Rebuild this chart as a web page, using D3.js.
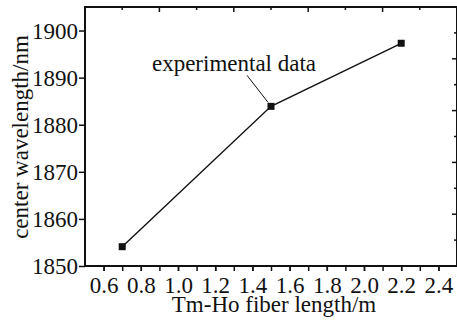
<!DOCTYPE html>
<meta charset="utf-8">
<script src="https://d3js.org/d3.v7.min.js"></script>
<style>
body { margin: 0; background: #fff; }
svg text { font-family: "Liberation Serif", "Times New Roman", serif !important; fill: #111; }
.axis path { display: none; }
.axis line { stroke: #111; stroke-width: 1.5px; }
</style>
<body></body>
<script>

// data
var fiberLength = [0.7, 1.5, 2.2];          // m
var centerWave = [1854.1, 1883.9, 1897.3];  // nm
var xTicks = [0.6, 0.8, 1.0, 1.2, 1.4, 1.6, 1.8, 2.0, 2.2, 2.4];
var yTicks = [1850, 1860, 1870, 1880, 1890, 1900];
var frameTicks = [1, 2, 3, 4, 5, 6, 7, 8, 9];   // top/right frame ticks
var label = "experimental data";

var width = 457, height = 320;
var m = {left: 85, right: 457, top: 7, bottom: 266};
var serif = '"Liberation Serif", "Times New Roman", serif';

var svg = d3.select("body").append("svg")
    .attr("width", width)
    .attr("height", height);

var xScale = d3.scaleLinear().domain([0.5, 2.5]).range([m.left, m.right]);
var yScale = d3.scaleLinear().domain([1850, 1905]).range([m.bottom, m.top]);
var frameX = d3.scaleLinear().domain([0, 10]).range([m.left, m.right]);
var frameY = d3.scaleLinear().domain([0, 10]).range([m.bottom, m.top]);

// bottom axis: ticks every 0.1, labels every 0.2
var minorX = d3.range(6, 25).map(function(d) { return d / 10; });
svg.append("g")
    .attr("class", "axis")
    .attr("transform", "translate(0," + m.bottom + ")")
    .call(d3.axisBottom(xScale).tickValues(minorX).tickSize(5).tickFormat(""));
var xAxisG = svg.append("g")
    .attr("class", "axis")
    .attr("transform", "translate(0," + m.bottom + ")")
    .call(d3.axisBottom(xScale).tickValues(xTicks).tickSize(5).tickPadding(6)
      .tickFormat(d3.format(".1f")));
xAxisG.attr("font-family", serif);
xAxisG.selectAll("text").style("font-size", "23px");

// left axis
var yAxisG = svg.append("g")
    .attr("class", "axis")
    .attr("transform", "translate(" + m.left + ",0)")
    .call(d3.axisLeft(yScale).tickValues(yTicks).tickSize(6).tickPadding(1)
      .tickFormat(d3.format("d")));
yAxisG.attr("font-family", serif);
yAxisG.selectAll("text").style("font-size", "23px").attr("dy", "0.34em");

// top frame ticks (inward, alternating length)
svg.append("g").selectAll("line")
    .data(frameTicks).enter().append("line")
    .attr("x1", function(d) { return frameX(d); })
    .attr("x2", function(d) { return frameX(d); })
    .attr("y1", m.top)
    .attr("y2", function(d) { return m.top + (d % 2 == 0 ? 5 : 3); })
    .attr("stroke", "#111").attr("stroke-width", 1.5);

// right frame ticks
svg.append("g").selectAll("line")
    .data(frameTicks).enter().append("line")
    .attr("y1", function(d) { return frameY(d); })
    .attr("y2", function(d) { return frameY(d); })
    .attr("x1", m.right)
    .attr("x2", function(d) { return m.right - (d % 2 == 0 ? 5 : 3); })
    .attr("stroke", "#111").attr("stroke-width", 1.5);

// frame
svg.append("path")
    .attr("d", "M" + m.left + "," + m.bottom + "V" + m.top + "H" + m.right + "V" + m.bottom + "Z")
    .attr("fill", "none").attr("stroke", "#111").attr("stroke-width", 2);

// series
var pts = fiberLength.map(function(d, i) { return [d, centerWave[i]]; });
var line = d3.line()
    .x(function(d) { return xScale(d[0]); })
    .y(function(d) { return yScale(d[1]); });

svg.append("path")
    .datum(pts)
    .attr("d", line)
    .attr("fill", "none")
    .attr("stroke", "#111")
    .attr("stroke-width", 1.4);

svg.selectAll(".pt")
    .data(pts).enter().append("rect")
    .attr("class", "pt")
    .attr("x", function(d) { return xScale(d[0]) - 3.5; })
    .attr("y", function(d) { return yScale(d[1]) - 3.5; })
    .attr("width", 7).attr("height", 7)
    .attr("fill", "#111");

// annotation pointing at the middle point
var mid = pts[1];
svg.append("line")
    .attr("x1", xScale(mid[0]) - 24)
    .attr("y1", yScale(mid[1]) - 31)
    .attr("x2", xScale(mid[0]) - 3)
    .attr("y2", yScale(mid[1]) - 4)
    .attr("stroke", "#111").attr("stroke-width", 1);

svg.append("text")
    .attr("x", xScale(mid[0]) - 37)
    .attr("y", yScale(mid[1]) - 35)
    .attr("text-anchor", "middle")
    .style("font-size", "23px")
    .text(label);

// axis titles
svg.append("text")
    .attr("x", (m.left + m.right) / 2 + 3)
    .attr("y", 312)
    .attr("text-anchor", "middle")
    .style("font-size", "23px")
    .text("Tm-Ho fiber length/m");

svg.append("text")
    .attr("transform", "translate(28," + 137 + ") rotate(-90)")
    .attr("text-anchor", "middle")
    .style("font-size", "23px")
    .text("center wavelength/nm");

</script>
